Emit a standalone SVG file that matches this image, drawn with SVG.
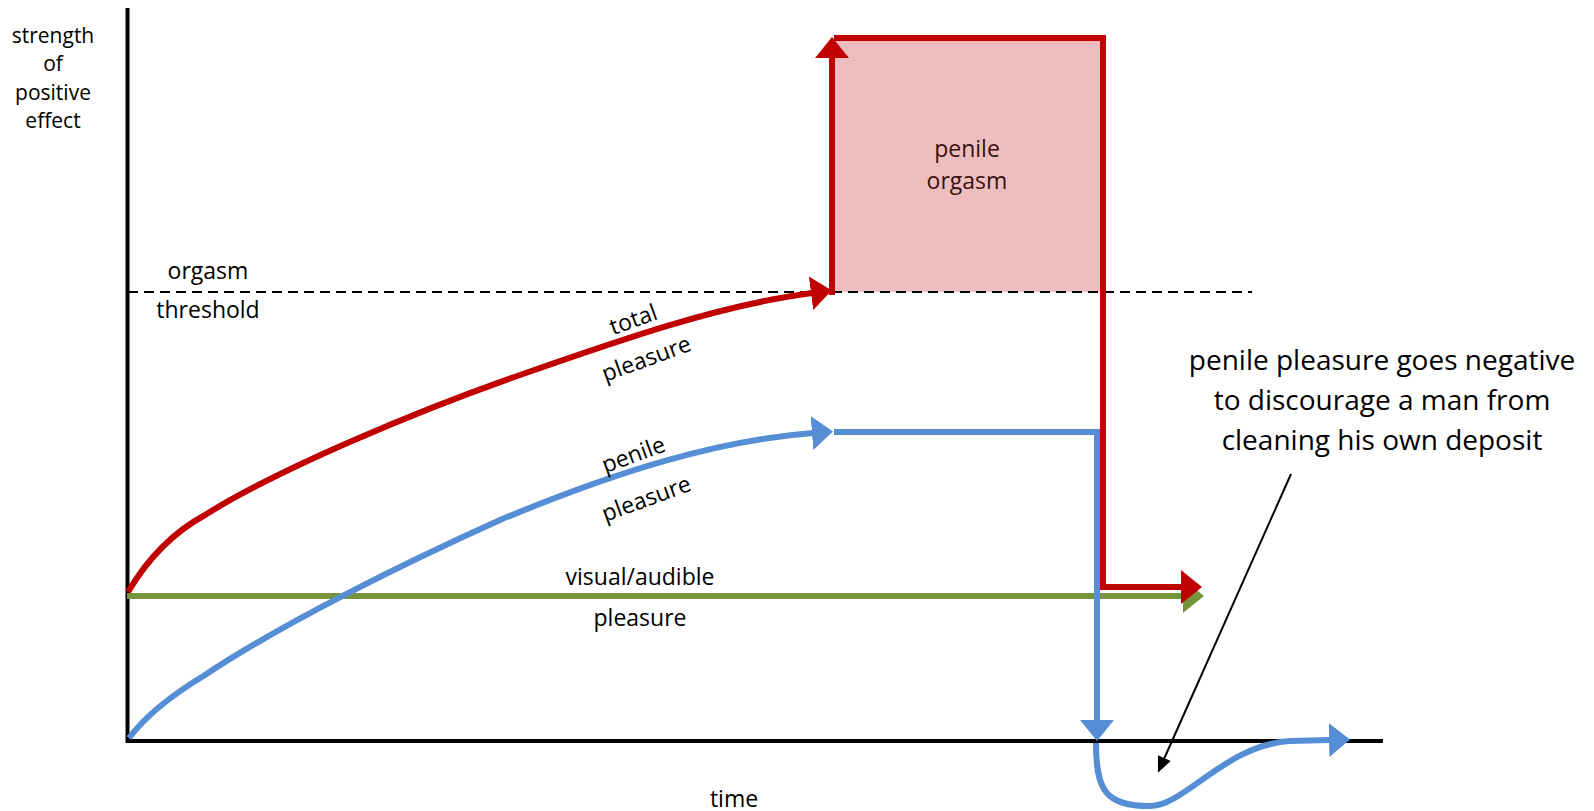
<svg xmlns="http://www.w3.org/2000/svg" width="1594" height="811" viewBox="0 0 1594 811">
<style>
text{font-family:"Open Sans","Liberation Sans",sans-serif;fill:#000;text-anchor:middle}
.lbl{font-size:23px}
.ylbl{font-size:21px}
.ann{font-size:28px}
.red{fill:none;stroke:#C00000;stroke-width:6}
.blue{fill:none;stroke:#558ED5;stroke-width:6}
.green{fill:none;stroke:#77933C;stroke-width:6}
.axis{fill:none;stroke:#000;stroke-width:4}
</style>
<defs>
<marker id="aR" markerUnits="userSpaceOnUse" markerWidth="22" markerHeight="34" refX="1" refY="17" orient="auto" viewBox="0 0 22 34"><path d="M0,0 L21,17 L0,34 z" fill="#C00000"/></marker>
<marker id="aB" markerUnits="userSpaceOnUse" markerWidth="22" markerHeight="34" refX="1" refY="17" orient="auto" viewBox="0 0 22 34"><path d="M0,0 L21,17 L0,34 z" fill="#558ED5"/></marker>
<marker id="aG" markerUnits="userSpaceOnUse" markerWidth="22" markerHeight="34" refX="1" refY="17" orient="auto" viewBox="0 0 22 34"><path d="M0,0 L21,17 L0,34 z" fill="#77933C"/></marker>
<marker id="aK" markerUnits="userSpaceOnUse" markerWidth="16" markerHeight="14" refX="1" refY="7" orient="auto" viewBox="0 0 16 14"><path d="M0,0 L16,7 L0,14 z" fill="#000"/></marker>
</defs>

<g id="axes">
<line class="axis" x1="127.5" y1="8" x2="127.5" y2="743"/>
<line class="axis" x1="126" y1="741" x2="1383" y2="741"/>
<text class="ylbl" x="53" y="43">strength</text>
<text class="ylbl" x="53" y="71">of</text>
<text class="ylbl" x="53" y="100">positive</text>
<text class="ylbl" x="53" y="128">effect</text>
<text class="lbl" x="734" y="807">time</text>
</g>

<g id="orgasm-box">
<rect x="832" y="38" width="271" height="254" fill="#EEBEBE"/>
<text class="lbl" x="967" y="157" style="fill:#3a1010">penile</text>
<text class="lbl" x="967" y="189" style="fill:#3a1010">orgasm</text>
</g>

<g id="threshold">
<line x1="128" y1="292" x2="1252" y2="292" stroke="#000" stroke-width="2" stroke-dasharray="10,6"/>
<text class="lbl" x="208" y="279">orgasm</text>
<text class="lbl" x="208" y="318">threshold</text>
</g>

<g id="connectors">
<path class="green" d="M127,596 H1184" marker-end="url(#aG)"/>
<path class="red" d="M128,592 C148,558 172,533 205,515 C280,468 420,410 520,375 C620,340 720,305 812,293" marker-end="url(#aR)"/>
<path class="red" d="M832,295 V57" marker-end="url(#aR)"/>
<path class="red" d="M834,38 H1103 V587 H1182" stroke-linejoin="miter" marker-end="url(#aR)"/>
<path class="blue" d="M129,738 C150,710 180,690 205,675 C280,625 400,565 500,520 C620,470 720,440 813,433" marker-end="url(#aB)"/>
<path class="blue" d="M834,432 H1097 V721" marker-end="url(#aB)"/>
<path class="blue" d="M1096,743 C1096,790 1105,806 1150,806 C1185,806 1225,745 1290,741 L1330,740" marker-end="url(#aB)"/>
<path d="M1291,474 L1164,759" fill="none" stroke="#000" stroke-width="2" marker-end="url(#aK)"/>
</g>

<g id="curve-labels">
<text class="lbl" transform="translate(636,327) rotate(-20)">total</text>
<text class="lbl" transform="translate(649,366) rotate(-20)">pleasure</text>
<text class="lbl" transform="translate(636,462) rotate(-20)">penile</text>
<text class="lbl" transform="translate(649,506) rotate(-20)">pleasure</text>
<text class="lbl" x="640" y="585">visual/audible</text>
<text class="lbl" x="640" y="626">pleasure</text>
</g>

<g id="annotation">
<text class="ann" x="1382" y="370">penile pleasure goes negative</text>
<text class="ann" x="1382" y="410">to discourage a man from</text>
<text class="ann" x="1382" y="450">cleaning his own deposit</text>
</g>
</svg>
